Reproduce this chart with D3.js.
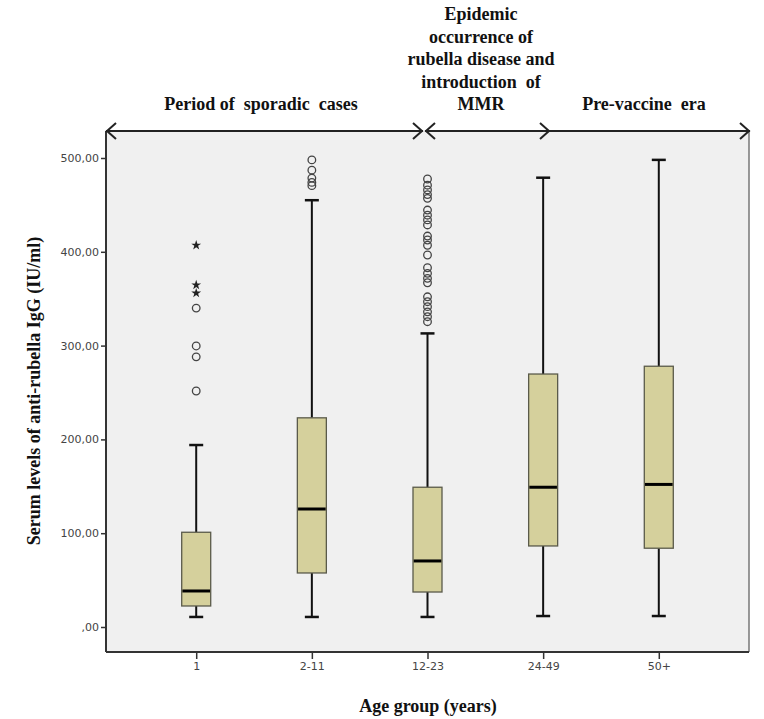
<!DOCTYPE html>
<html>
<head>
<meta charset="utf-8">
<script src="https://cdn.jsdelivr.net/npm/d3@7"></script>
<style>
  html, body { margin: 0; padding: 0; background: #ffffff; }
  svg { display: block; }
</style>
</head>
<body>
<svg id="chart" width="764" height="719"></svg>
<script>
// ---- data ----
const categories = ["1", "2-11", "12-23", "24-49", "50+"];
const lowerWhisker = [10.7, 10.7, 10.7, 11.7, 11.7];
const q1Values = [22.4, 57.6, 37.3, 86.4, 84];
const medianValues = [38.4, 125.8, 70.4, 149, 152];
const q3Values = [101, 223, 149, 269.7, 278];
const upperWhisker = [194, 455, 313, 479, 498];
const outlierValues = [
  [340, 299.6, 288, 251.6],
  [498, 487, 478.6, 474, 470.5],
  [477.6, 471, 466, 461, 457, 444.5, 439, 434, 428.6, 416.8, 412.6, 407, 396.6,
   383, 377, 371.7, 367, 352, 346.8, 341.5, 336, 330.8, 325.5],
  [],
  []
];
const extremeValues = [
  [407, 364.6, 356],
  [],
  [],
  [],
  []
];
const yTickValues = [0, 100, 200, 300, 400, 500];
const periodLabels = [
  ["Period of  sporadic  cases"],
  ["Epidemic", "occurrence of", "rubella disease and", "introduction  of", "MMR"],
  ["Pre-vaccine  era"]
];
const xTitle = "Age group (years)";
const yTitle = "Serum levels of anti-rubella IgG (IU/ml)";

// ---- layout ----
const frame = { left: 106, right: 749, top: 131, bottom: 652 };
const svg = d3.select("#chart");

const x = d3.scalePoint().domain(categories).range([frame.left, frame.right]).padding(0.78);
const y = d3.scaleLinear().domain([0, 500]).range([627, 158]);

// plot background
svg.append("rect")
  .attr("x", frame.left).attr("y", frame.top)
  .attr("width", frame.right - frame.left).attr("height", frame.bottom - frame.top)
  .attr("fill", "#f0f0f0");

// right edge
svg.append("line")
  .attr("x1", frame.right).attr("x2", frame.right)
  .attr("y1", frame.top).attr("y2", frame.bottom)
  .attr("stroke", "#777").attr("stroke-width", 1.5);

// y axis
const yAxis = d3.axisLeft(y).tickValues(yTickValues).tickSize(5).tickPadding(2)
  .tickFormat(d => d === 0 ? ",00" : d + ",00");
const gy = svg.append("g").attr("transform", `translate(${frame.left},0)`).call(yAxis);
gy.select(".domain").remove();
gy.append("line").attr("x1", 0).attr("x2", 0).attr("y1", frame.top).attr("y2", frame.bottom)
  .attr("stroke", "#333").attr("stroke-width", 2);
gy.selectAll(".tick line").attr("stroke", "#333").attr("stroke-width", 1.5);
gy.selectAll(".tick text").attr("fill", "#444").style("font-family", "'DejaVu Sans', Verdana, sans-serif")
  .style("font-size", "11px");

// x axis
const xAxis = d3.axisBottom(x).tickSize(7).tickPadding(3);
const gx = svg.append("g").attr("transform", `translate(0,${frame.bottom})`).call(xAxis);
gx.select(".domain").remove();
gx.append("line").attr("x1", frame.left).attr("x2", frame.right).attr("y1", 0).attr("y2", 0)
  .attr("stroke", "#333").attr("stroke-width", 2);
gx.selectAll(".tick line").attr("stroke", "#333").attr("stroke-width", 1.5);
gx.selectAll(".tick text").attr("fill", "#444").style("font-family", "'DejaVu Sans', Verdana, sans-serif")
  .style("font-size", "11px");

// boxes
const boxW = 29, capW = 14;
const rows = categories.map((c, i) => ({
  c, lw: lowerWhisker[i], q1: q1Values[i], med: medianValues[i], q3: q3Values[i], uw: upperWhisker[i],
  out: outlierValues[i], ext: extremeValues[i]
}));
const g = svg.append("g");
const bg = g.selectAll("g.box").data(rows).join("g").attr("class", "box");

bg.append("line").attr("x1", d => x(d.c)).attr("x2", d => x(d.c))
  .attr("y1", d => y(d.uw)).attr("y2", d => y(d.q3)).attr("stroke", "#111").attr("stroke-width", 2);
bg.append("line").attr("x1", d => x(d.c)).attr("x2", d => x(d.c))
  .attr("y1", d => y(d.q1)).attr("y2", d => y(d.lw)).attr("stroke", "#111").attr("stroke-width", 2);
bg.append("line").attr("x1", d => x(d.c) - capW / 2).attr("x2", d => x(d.c) + capW / 2)
  .attr("y1", d => y(d.uw)).attr("y2", d => y(d.uw)).attr("stroke", "#111").attr("stroke-width", 2.5);
bg.append("line").attr("x1", d => x(d.c) - capW / 2).attr("x2", d => x(d.c) + capW / 2)
  .attr("y1", d => y(d.lw)).attr("y2", d => y(d.lw)).attr("stroke", "#111").attr("stroke-width", 2.5);
bg.append("rect").attr("x", d => x(d.c) - boxW / 2).attr("width", boxW)
  .attr("y", d => y(d.q3)).attr("height", d => y(d.q1) - y(d.q3))
  .attr("fill", "#d5d09c").attr("stroke", "#5a5a4a").attr("stroke-width", 1.3);
bg.append("line").attr("x1", d => x(d.c) - boxW / 2 + 0.7).attr("x2", d => x(d.c) + boxW / 2 - 0.7)
  .attr("y1", d => y(d.med)).attr("y2", d => y(d.med)).attr("stroke", "#000").attr("stroke-width", 3);

// outliers
bg.each(function(d) {
  const sel = d3.select(this);
  sel.selectAll("circle").data(d.out).join("circle")
    .attr("cx", x(d.c)).attr("cy", v => y(v)).attr("r", 3.8)
    .attr("fill", "none").attr("stroke", "#444").attr("stroke-width", 1.3);
  sel.selectAll("path.star").data(d.ext).join("path").attr("class", "star")
    .attr("transform", v => `translate(${x(d.c)},${y(v)})`)
    .attr("d", d3.symbol().type(d3.symbolStar).size(30))
    .attr("fill", "#222");
});

// period arrows
const ay = frame.top;
const arrowColor = "#222";
const segs = [
  { x1: frame.left, x2: 423, left: true, right: true },
  { x1: 425, x2: 550, left: true, right: true },
  { x1: 550, x2: 750, left: false, right: true }
];
const ag = svg.append("g").attr("stroke", arrowColor).attr("stroke-width", 2).attr("fill", "none");
segs.forEach(s => {
  ag.append("line").attr("x1", s.x1).attr("x2", s.x2).attr("y1", ay).attr("y2", ay);
  if (s.left) ag.append("path").attr("d", `M${s.x1 + 10},${ay - 8} L${s.x1 + 1},${ay} L${s.x1 + 10},${ay + 8}`);
  if (s.right) ag.append("path").attr("d", `M${s.x2 - 10},${ay - 8} L${s.x2 - 1},${ay} L${s.x2 - 10},${ay + 8}`);
});

// period labels
const serif = "'Liberation Serif', 'Times New Roman', serif";
const labelCenters = [261, 481, 644];
const lineH = 22.5;
periodLabels.forEach((lines, i) => {
  const n = lines.length;
  lines.forEach((t, j) => {
    svg.append("text")
      .attr("x", labelCenters[i])
      .attr("y", 110 - (n - 1 - j) * lineH)
      .attr("text-anchor", "middle")
      .attr("font-family", serif).attr("font-weight", "bold").attr("font-size", 18)
      .attr("fill", "#111")
      .style("white-space", "pre")
      .text(t);
  });
});

// axis titles
svg.append("text").attr("x", 428).attr("y", 712).attr("text-anchor", "middle")
  .attr("font-family", serif).attr("font-weight", "bold").attr("font-size", 18).attr("fill", "#111")
  .text(xTitle);
svg.append("text").attr("transform", "translate(40,391) rotate(-90)").attr("text-anchor", "middle")
  .attr("font-family", serif).attr("font-weight", "bold").attr("font-size", 18).attr("fill", "#111")
  .text(yTitle);
</script>
</body>
</html>
